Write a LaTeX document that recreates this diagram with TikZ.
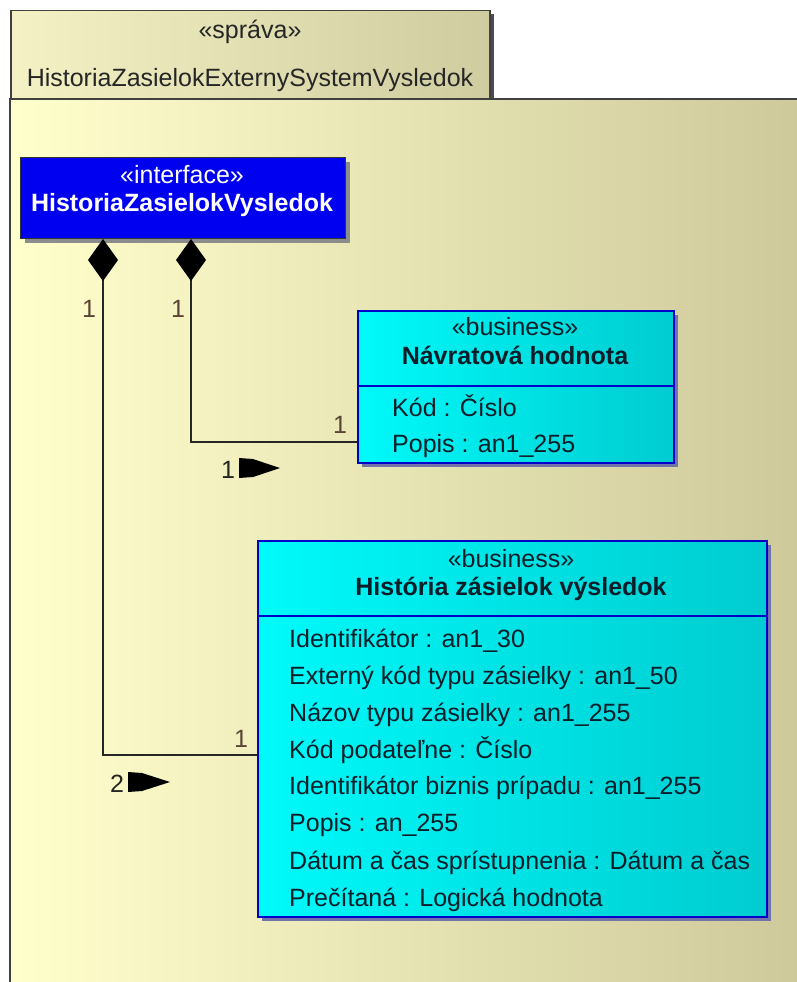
\documentclass[tikz,border=0pt]{standalone}
\usepackage{fontspec}
\setmainfont{Liberation Sans}
\usepackage{tikz}
\usetikzlibrary{arrows.meta,positioning,shadows}
\definecolor{pkgleft}{HTML}{FFFFCC}
\definecolor{pkgright}{HTML}{CEC99B}
\definecolor{tableft}{HTML}{F4F2C4}
\definecolor{tabright}{HTML}{CFCC9F}
\definecolor{ifblue}{HTML}{0000F0}
\definecolor{clsleft}{HTML}{00FAFA}
\definecolor{clsright}{HTML}{00CCD0}
\definecolor{clsborder}{HTML}{0000C8}
\definecolor{clstext}{HTML}{0A1E2A}
\definecolor{multtext}{HTML}{5A4535}
\newcommand{\umlfont}{\fontsize{25}{30}\selectfont}

\begin{document}
\begin{tikzpicture}[x=1pt, y=-1pt, font=\umlfont,
  pkgtab/.style={draw=black!75, line width=1.5pt, left color=tableft, right color=tabright,
    drop shadow={shadow xshift=4pt, shadow yshift=-3pt, fill=black!70, opacity=1}},
  pkgbody/.style={left color=pkgleft, right color=pkgright, inner sep=0pt},
  iface/.style={draw=black!80, line width=1pt, fill=ifblue,
    drop shadow={shadow xshift=4pt, shadow yshift=-4pt, fill=black!45, opacity=1}},
  cls/.style={draw=clsborder, line width=1.5pt, left color=clsleft, right color=clsright,
    drop shadow={shadow xshift=4pt, shadow yshift=-4pt, fill=blue!40!black!55, opacity=1}},
  lbl/.style={inner sep=0pt, anchor=base, text=clstext},
  attr/.style={inner sep=0pt, anchor=base west, text=clstext},
  mult/.style={inner sep=0pt, anchor=base, text=multtext},
  comp/.style={draw=black!85, line width=1.5pt, {Diamond[length=42pt,width=30pt,color=black]}-},
  dirtip/.style={fill=black}]

\useasboundingbox (0,0) rectangle (797,982);

% package
\node[pkgtab, minimum width=479pt, minimum height=89pt, anchor=north west] (tab) at (10,10) {};
\node[pkgbody, minimum width=792pt, minimum height=890pt, anchor=north west] (body) at (10,99) {};
\draw[black!75, line width=1.5pt] (body.north east) -- (body.north west) -- (body.south west);
\node[lbl, text=black!85] (pkgst) at (250,39) {«správa»};
\node[lbl, text=black!85] (pkgname) at (250,86) {HistoriaZasielokExternySystemVysledok};

% interface
\node[iface, minimum width=325pt, minimum height=81pt, anchor=north west] (ifc) at (20,157) {};
\node[lbl, text=white] (ifcst) at (182,183) {«interface»};
\node[lbl, text=white, font=\umlfont\bfseries] (ifcname) at (182,211) {HistoriaZasielokVysledok};

% navratova hodnota
\node[cls, minimum width=316pt, minimum height=152pt, anchor=north west] (navr) at (357,310) {};
\draw[clsborder, line width=1.5pt] (navr.west |- 0,386) -- (navr.east |- 0,386);
\node[lbl] (navrst) at (515,335) {«business»};
\node[lbl, font=\umlfont\bfseries] (navrname) at (515,364) {Návratová hodnota};
\node[attr] (navra1) at (392,416) {Kód : Číslo};
\node[attr] (navra2) at (392,452) {Popis : an1\_255};

% historia zasielok vysledok
\node[cls, minimum width=509pt, minimum height=376pt, anchor=north west] (hist) at (257,540) {};
\draw[clsborder, line width=1.5pt] (hist.west |- 0,616) -- (hist.east |- 0,616);
\node[lbl] (histst) at (511,567) {«business»};
\node[lbl, font=\umlfont\bfseries] (histname) at (511,595) {História zásielok výsledok};
\node[attr] (hista1) at (289,647) {Identifikátor : an1\_30};
\node[attr] (hista2) at (289,684) {Externý kód typu zásielky : an1\_50};
\node[attr] (hista3) at (289,721) {Názov typu zásielky : an1\_255};
\node[attr] (hista4) at (289,758) {Kód podateľne : Číslo};
\node[attr] (hista5) at (289,794) {Identifikátor biznis prípadu : an1\_255};
\node[attr] (hista6) at (289,831) {Popis : an\_255};
\node[attr] (hista7) at (289,869) {Dátum a čas sprístupnenia : Dátum a čas};
\node[attr] (hista8) at (289,906) {Prečítaná : Logická hodnota};

% compositions
\draw[comp] (ifc.south -| 191,0) |- (navr.west |- 0,442);
\draw[comp] (ifc.south -| 103,0) |- (hist.west |- 0,755);

\node[mult] (m1) at (89,317) {1};
\node[mult] (m2) at (178,317) {1};
\node[mult] (m3) at (340,433) {1};
\node[mult] (m4) at (241,747) {1};

% role direction
\node[mult, text=black!85] (r1) at (228,478) {1};
\coordinate (r1tip) at (239,468);
\fill[dirtip] (r1tip) ++(0,-10) -- ++(14,1) -- ++(27,9) -- ++(-27,9) -- ++(-14,1) -- cycle;
\node[mult, text=black!85] (r2) at (117,792) {2};
\coordinate (r2tip) at (128,782);
\fill[dirtip] (r2tip) ++(0,-10) -- ++(14,1) -- ++(28,9) -- ++(-28,9) -- ++(-14,1) -- cycle;
\end{tikzpicture}
\end{document}
